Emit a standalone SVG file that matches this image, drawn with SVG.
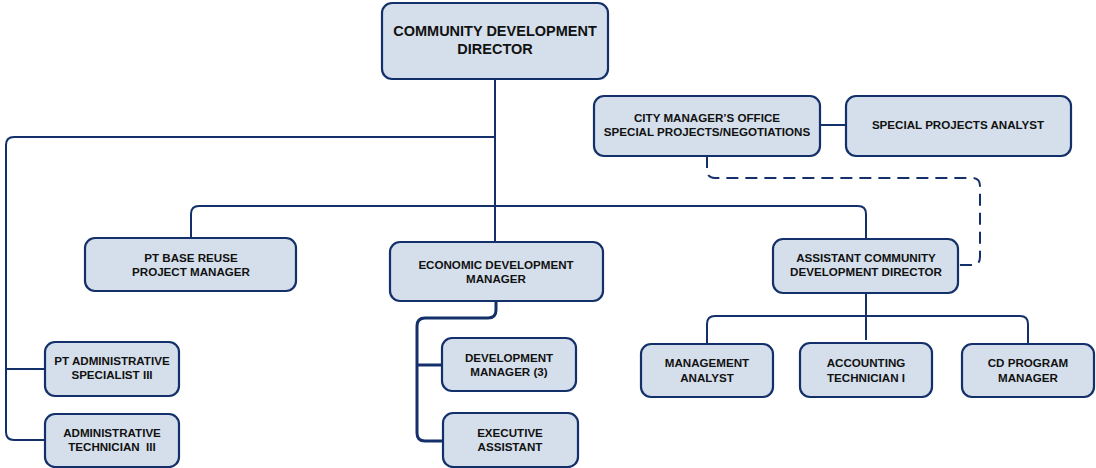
<svg xmlns="http://www.w3.org/2000/svg" width="1096" height="468" viewBox="0 0 1096 468">
<style>
.box{fill:#D4DFEB;stroke:#14306A;stroke-width:2.2}
.ln{fill:none;stroke:#14306A;stroke-width:2}
.thick{stroke-width:3}
.dash{stroke-dasharray:12 7}
text{font-family:"Liberation Sans",Arial,sans-serif;font-weight:bold;font-size:11.6px;fill:#111;text-anchor:middle}
.big{font-size:14.5px}
</style>
<rect width="1096" height="468" fill="#fff"/>
<g id="connectors">
<path class="ln" d="M495 79 V242"/>
<path class="ln" d="M495 137 H14 Q6 137 6 145 V432 Q6 440 14 440 H45"/>
<path class="ln" d="M6 369 H45"/>
<path class="ln" d="M191 238 V214 Q191 206 199 206 H858 Q866 206 866 214 V239"/>
<path class="ln thick" d="M496 301 V310 Q496 318 488 318 H425 Q417 318 417 326 V433 Q417 441 425 441 H443"/>
<path class="ln thick" d="M417 365 H442"/>
<path class="ln" d="M820 125 H846"/>
<path class="ln dash" d="M707 156 V170 Q707 178 715 178 H972 Q980 178 980 186 V257 Q980 265 972 265 H959"/>
<path class="ln" d="M866 292 V340"/>
<path class="ln" d="M707 344 V324 Q707 316 715 316 H1020 Q1028 316 1028 324 V344"/>
</g>
<g id="director"><rect class="box" x="382" y="3" width="226" height="76" rx="10"/><text class="big" x="495" y="36">COMMUNITY DEVELOPMENT</text><text class="big" x="495" y="54">DIRECTOR</text></g>
<g id="city-manager"><rect class="box" x="594" y="96" width="226" height="60" rx="10"/><text x="707" y="122">CITY MANAGER’S OFFICE</text><text x="707" y="136">SPECIAL PROJECTS/NEGOTIATIONS</text></g>
<g id="special-projects-analyst"><rect class="box" x="846" y="96" width="225" height="60" rx="10"/><text x="958" y="129">SPECIAL PROJECTS ANALYST</text></g>
<g id="pt-base-reuse"><rect class="box" x="85" y="238" width="211" height="53" rx="10"/><text x="191" y="262">PT BASE REUSE</text><text x="191" y="276">PROJECT MANAGER</text></g>
<g id="econ-dev-manager"><rect class="box" x="390" y="242" width="213" height="59" rx="10"/><text x="496" y="269">ECONOMIC DEVELOPMENT</text><text x="496" y="283">MANAGER</text></g>
<g id="assistant-director"><rect class="box" x="773" y="239" width="185" height="54" rx="10"/><text x="866" y="262">ASSISTANT COMMUNITY</text><text x="866" y="276">DEVELOPMENT DIRECTOR</text></g>
<g id="management-analyst"><rect class="box" x="641" y="344" width="132" height="53" rx="10"/><text x="707" y="367">MANAGEMENT</text><text x="707" y="382">ANALYST</text></g>
<g id="accounting-technician"><rect class="box" x="800" y="343" width="132" height="54" rx="10"/><text x="866" y="367">ACCOUNTING</text><text x="866" y="382">TECHNICIAN I</text></g>
<g id="cd-program-manager"><rect class="box" x="962" y="344" width="132" height="53" rx="10"/><text x="1028" y="367">CD PROGRAM</text><text x="1028" y="382">MANAGER</text></g>
<g id="pt-admin-specialist"><rect class="box" x="45" y="342" width="134" height="54" rx="10"/><text x="112" y="365">PT ADMINISTRATIVE</text><text x="112" y="379">SPECIALIST III</text></g>
<g id="admin-technician"><rect class="box" x="45" y="414" width="134" height="53" rx="10"/><text x="112" y="437">ADMINISTRATIVE</text><text x="112" y="451" xml:space="preserve">TECHNICIAN  III</text></g>
<g id="development-manager"><rect class="box" x="442" y="338" width="134" height="53" rx="10"/><text x="509" y="362">DEVELOPMENT</text><text x="509" y="376">MANAGER (3)</text></g>
<g id="executive-assistant"><rect class="box" x="443" y="413" width="135" height="54" rx="10"/><text x="510" y="437">EXECUTIVE</text><text x="510" y="451">ASSISTANT</text></g>
</svg>
